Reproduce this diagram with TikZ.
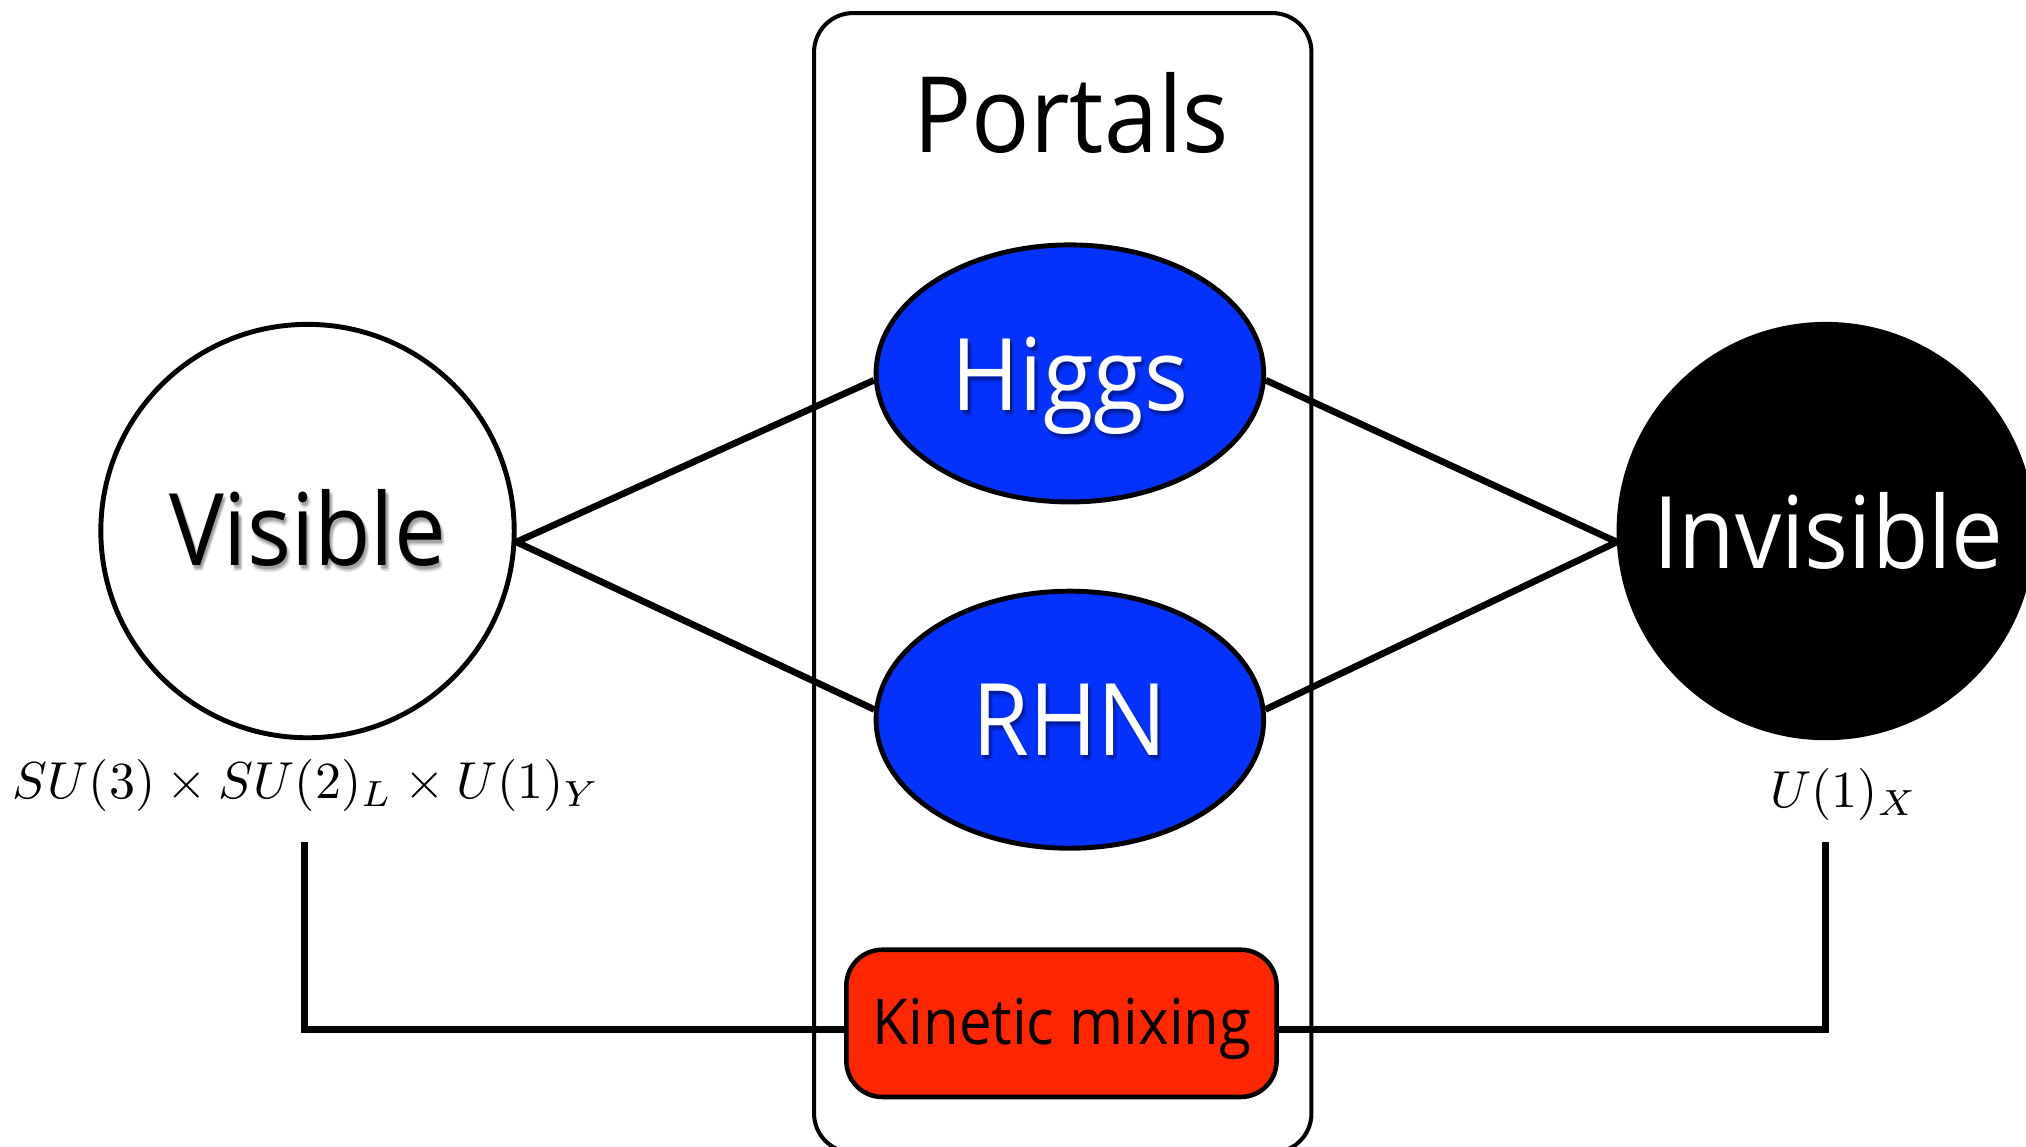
\documentclass[tikz,border=0pt]{standalone}
\usepackage{fontspec}
\setmainfont{Open Sans}
\newfontfamily\labelfont[FakeStretch=0.92]{Open Sans}
\usetikzlibrary{shapes.geometric,calc,backgrounds}
\definecolor{portalblue}{HTML}{0433FF}
\definecolor{mixred}{HTML}{FF2600}
\tikzset{
  sector/.style={circle, draw=black, line width=1.4pt, minimum size=4.135cm, inner sep=0pt},
  portal/.style={ellipse, draw=black, line width=1.4pt, fill=portalblue,
    minimum width=3.876cm, minimum height=2.571cm, inner sep=0pt},
  mixbox/.style={rectangle, rounded corners=0.36cm, draw=black, line width=1.3pt,
    fill=mixred, minimum width=4.303cm, minimum height=1.473cm, inner sep=0pt},
  portalframe/.style={rectangle, rounded corners=0.39cm, draw=black, line width=1.15pt,
    minimum width=4.975cm, minimum height=11.396cm, inner sep=0pt},
  bigword/.style={anchor=base, inner sep=0pt, font=\labelfont\fontsize{28.5}{32}\selectfont},
  titleword/.style={anchor=base, inner sep=0pt, font=\labelfont\fontsize{30}{34}\selectfont},
  mixword/.style={anchor=base, inner sep=0pt, font=\labelfont\fontsize{18}{20}\selectfont},
  haze/.style={bigword, text=black, opacity=0.045},
  link/.style={line width=1.9pt},
  bracket/.style={line width=2pt},
  grouplabel/.style={inner sep=0pt, scale=1.48},
}
\begin{document}
\begin{tikzpicture}[x=0.012921cm, y=-0.012921cm]
  \clip (0,0) rectangle (1568,887);
  \useasboundingbox (0,0) rectangle (1568,887);

  % frame holding the portals
  \node[portalframe] (frame) at (822.5,451) {};
  \node[titleword] (title) at (829,118) {Portals};

  % sectors and portals (shapes first, words on top)
  \node[sector, fill=white] (visible) at (238,411) {};
  \node[sector, fill=black] (invisible) at (1413,411) {};
  \node[portal] (higgs) at (828,289) {};
  \node[portal] (rhn) at (828,557) {};
  \node[mixbox] (mix) at (821.5,792) {};

  % gauge groups
  \node[grouplabel] (smgroup) at (237,608) {$SU(3)\times SU(2)_L\times U(1)_Y$};
  \node[grouplabel] (darkgroup) at (1427,615) {$U(1)_X$};
  \coordinate (smtick) at (236,652);
  \coordinate (darktick) at (1413,652);

  % connectors, kept underneath the shapes
  \begin{pgfonlayer}{background}
    \draw[link] (visible.-3.5) -- (higgs.182);
    \draw[link] (visible.-3.5) -- (rhn.177);
    \draw[link] (invisible.183.5) -- (higgs.-2);
    \draw[link] (invisible.183.5) -- (rhn.3);
    \draw[bracket] (smtick) |- ($(mix.west)+(0,5)$);
    \draw[bracket] (darktick) |- ($(mix.east)+(0,5)$);
  \end{pgfonlayer}

  % soft drop shadows under the words
  \foreach \dx/\dy [count=\k] in {1/2,2/2,2/3,1/3,3/3,2/4,1.5/1.5,2.5/2.5,3/4,1/4}{
    \node[haze] (visshade\k) at ($(238,438)+(\dx,\dy)$) {Visible};
    \node[haze] (higgsshade\k) at ($(828,318)+(\dx,\dy)$) {Higgs};
    \node[haze] (rhnshade\k) at ($(828,585)+(\dx,\dy)$) {RHN};
  }

  \node[bigword] (visword) at (238,438) {Visible};
  \node[bigword, text=white] (invisword) at (1415,440) {Invisible};
  \node[bigword, text=white] (higgsword) at (828,318) {Higgs};
  \node[bigword, text=white] (rhnword) at (828,585) {RHN};
  \node[mixword] (mixword) at (822,808) {Kinetic mixing};
\end{tikzpicture}
\end{document}
